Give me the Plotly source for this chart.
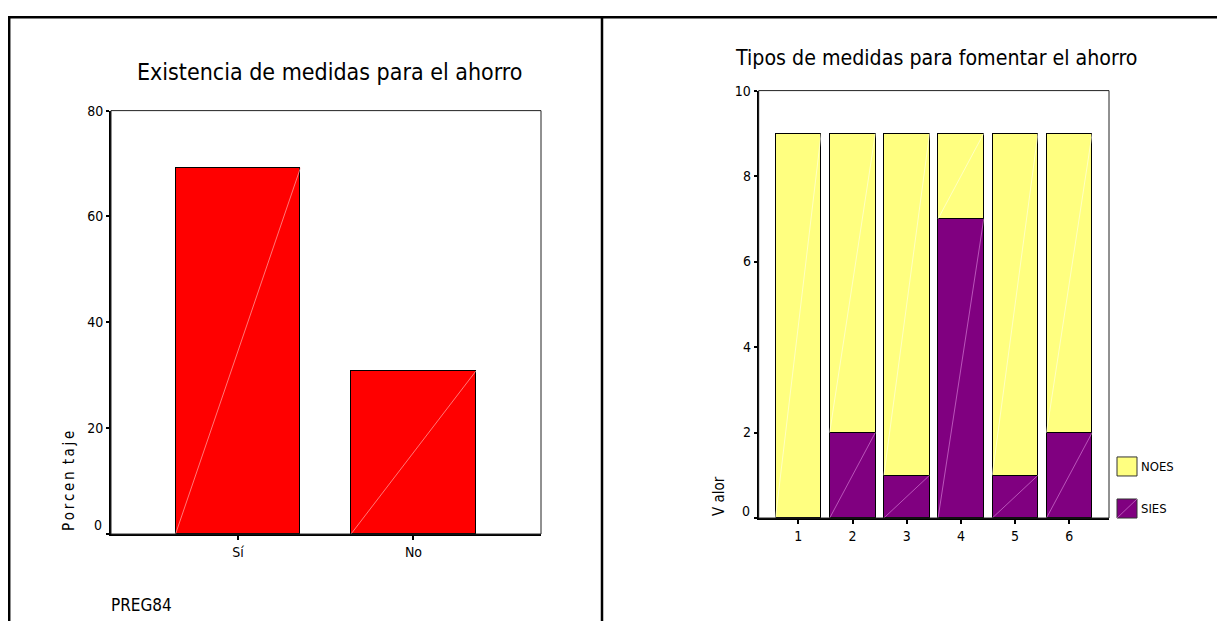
import plotly.graph_objects as go

# ── Data ────────────────────────────────────────────────────────────────────
preg84_labels = ['Sí', 'No']
preg84_pct = [69.2, 30.8]
left_ticks = [0, 20, 40, 60, 80]

tipo_labels = ['1', '2', '3', '4', '5', '6']
sies = [0, 2, 1, 7, 1, 2]
noes = [9, 7, 8, 2, 8, 7]
right_ticks = [0, 2, 4, 6, 8, 10]

FONT = 'DejaVu Sans Condensed, Liberation Sans, sans-serif'
PAGE_MARGIN = 8  # default body margin of the html page
W, H = 1225 - 2 * PAGE_MARGIN, 629 - 2 * PAGE_MARGIN


def px(x):
    # target pixel -> paper fraction
    return (x - PAGE_MARGIN) / W


def py(y):
    # the photographed page comes out slightly squeezed vertically and pushed down;
    # undo that so the target rows line up
    return 1 - (y / 0.986 - 16.7) / H


fig = go.Figure()

# ── Left chart: single bars ─────────────────────────────────────────────────
left_x = list(range(len(preg84_labels)))
bw_left = 0.712
fig.add_trace(go.Bar(
    x=left_x, y=preg84_pct, width=bw_left,
    marker=dict(color='#ff0000', line=dict(color='#000000', width=1)),
    xaxis='x', yaxis='y', showlegend=False, hoverinfo='y'
))

# SPSS-style diagonal highlight inside each bar
dx, dy = [], []
for xi, v in zip(left_x, preg84_pct):
    dx += [xi - bw_left / 2, xi + bw_left / 2, None]
    dy += [0, v, None]
fig.add_trace(go.Scatter(
    x=dx, y=dy, mode='lines',
    line=dict(color='rgba(255,190,190,0.9)', width=0.7),
    xaxis='x', yaxis='y', showlegend=False, hoverinfo='skip'
))

# ── Right chart: stacked bars ───────────────────────────────────────────────
right_x = list(range(1, len(tipo_labels) + 1))
bw_right = 0.843
fig.add_trace(go.Bar(
    x=right_x, y=sies, width=bw_right, name='SIES',
    marker=dict(color='#800080', line=dict(color='#000000', width=1)),
    xaxis='x2', yaxis='y2', showlegend=False
))
fig.add_trace(go.Bar(
    x=right_x, y=noes, width=bw_right, name='NOES',
    marker=dict(color='#ffff80', line=dict(color='#000000', width=1)),
    xaxis='x2', yaxis='y2', showlegend=False
))

sx, sy, nx, ny = [], [], [], []
for xi, s, n in zip(right_x, sies, noes):
    if s > 0:
        sx += [xi - bw_right / 2, xi + bw_right / 2, None]
        sy += [0, s, None]
    nx += [xi - bw_right / 2, xi + bw_right / 2, None]
    ny += [s, s + n, None]
fig.add_trace(go.Scatter(
    x=sx, y=sy, mode='lines',
    line=dict(color='rgba(230,150,230,0.8)', width=0.7),
    xaxis='x2', yaxis='y2', showlegend=False, hoverinfo='skip'
))
fig.add_trace(go.Scatter(
    x=nx, y=ny, mode='lines',
    line=dict(color='rgba(255,255,235,0.9)', width=0.7),
    xaxis='x2', yaxis='y2', showlegend=False, hoverinfo='skip'
))

# ── Axes ────────────────────────────────────────────────────────────────────
axis_common = dict(
    showgrid=False, zeroline=False, showline=True, linecolor='#000000',
    linewidth=2, ticks='outside', tickcolor='#000000', tickwidth=2,
    tickfont=dict(family=FONT, size=14, color='#000000'), fixedrange=True
)

# the "0" label sits a bit above its tick in the original, so it is an annotation
fig.update_layout(
    xaxis=dict(axis_common, domain=[px(111), px(541)], anchor='y',
               range=[-0.724, 1.727], tickvals=left_x, ticktext=preg84_labels,
               ticklen=4),
    yaxis=dict(axis_common, domain=[py(534), py(111)], anchor='x',
               range=[0, 80], tickvals=left_ticks,
               ticktext=[''] + [str(t) for t in left_ticks[1:]], ticklen=3),
    xaxis2=dict(axis_common, domain=[px(758.7), px(1109)], anchor='y2',
                range=[0.269, 6.732], tickvals=right_x, ticktext=tipo_labels,
                ticklen=4),
    yaxis2=dict(axis_common, domain=[py(518), py(91)], anchor='x2',
                range=[0, 10], tickvals=right_ticks,
                ticktext=[''] + [str(t) for t in right_ticks[1:]], ticklen=3),
    barmode='stack',
)

shapes = [
    # thin frame on top/right of each plot
    dict(type='rect', xref='x domain', yref='y domain', x0=0, x1=1, y0=0, y1=1,
         line=dict(color='#222222', width=1), layer='above'),
    dict(type='rect', xref='x2 domain', yref='y2 domain', x0=0, x1=1, y0=0, y1=1,
         line=dict(color='#222222', width=1), layer='above'),
    # page borders (table cell lines), as close to the window edge as the page allows
    dict(type='line', xref='paper', yref='paper', x0=0, x1=1, y0=1 - 1.2 / H, y1=1 - 1.2 / H,
         line=dict(color='#000000', width=2.5)),
    dict(type='line', xref='paper', yref='paper', x0=1.2 / W, x1=1.2 / W, y0=0, y1=1,
         line=dict(color='#000000', width=2.5)),
    dict(type='line', xref='paper', yref='paper', x0=px(602), x1=px(602), y0=0, y1=1,
         line=dict(color='#000000', width=2.5)),
    # legend swatches
    dict(type='rect', xref='paper', yref='paper', x0=px(1117), x1=px(1137),
         y0=py(476), y1=py(457), fillcolor='#ffff80', line=dict(color='#333333', width=1)),
    dict(type='rect', xref='paper', yref='paper', x0=px(1117), x1=px(1137),
         y0=py(518), y1=py(499), fillcolor='#800080', line=dict(color='#333333', width=1)),
    dict(type='line', xref='paper', yref='paper', x0=px(1117), x1=px(1137),
         y0=py(518), y1=py(499), line=dict(color='rgba(230,150,230,0.8)', width=0.7)),
]

annotations = [
    dict(text='Existencia de medidas para el ahorro', xref='paper', yref='paper',
         x=px(329), y=py(72), showarrow=False, xanchor='center', yanchor='middle',
         font=dict(family=FONT, size=23, color='#000000')),
    dict(text='Tipos de medidas para fomentar el ahorro', xref='paper', yref='paper',
         x=px(936.5), y=py(58), showarrow=False, xanchor='center', yanchor='middle',
         font=dict(family=FONT, size=21.2, color='#000000')),
    dict(text='P\u2009o\u2009r\u2009c\u2009e\u2009n\u2009 t\u2009a\u2009j\u2009e',
         xref='paper', yref='paper', x=px(69), y=py(533), textangle=-90,
         showarrow=False, xanchor='center', yanchor='bottom',
         font=dict(family=FONT, size=15, color='#000000')),
    dict(text='V alor', xref='paper', yref='paper',
         x=px(719), y=py(518), textangle=-90,
         showarrow=False, xanchor='center', yanchor='bottom',
         font=dict(family=FONT, size=15, color='#000000')),
    dict(text='PREG84', xref='paper', yref='paper', x=px(109), y=py(605),
         showarrow=False, xanchor='left', yanchor='middle',
         font=dict(family=FONT, size=17, color='#000000')),
    dict(text='NOES', xref='paper', yref='paper', x=px(1139), y=py(466.5),
         showarrow=False, xanchor='left', yanchor='middle',
         font=dict(family=FONT, size=13, color='#000000')),
    dict(text='SIES', xref='paper', yref='paper', x=px(1139), y=py(508),
         showarrow=False, xanchor='left', yanchor='middle',
         font=dict(family=FONT, size=13, color='#000000')),
    dict(text=str(left_ticks[0]), xref='paper', yref='paper', x=px(104), y=py(525),
         showarrow=False, xanchor='right', yanchor='middle',
         font=dict(family=FONT, size=14, color='#000000')),
    dict(text=str(right_ticks[0]), xref='paper', yref='paper', x=px(752), y=py(511),
         showarrow=False, xanchor='right', yanchor='middle',
         font=dict(family=FONT, size=14, color='#000000')),
]

fig.update_layout(
    width=W, height=H,
    margin=dict(l=0, r=0, t=0, b=0),
    paper_bgcolor='#ffffff', plot_bgcolor='#ffffff',
    font=dict(family=FONT, color='#000000'),
    shapes=shapes, annotations=annotations,
    showlegend=False, bargap=0,
)

fig.write_html('out.html', config={'displayModeBar': False})
